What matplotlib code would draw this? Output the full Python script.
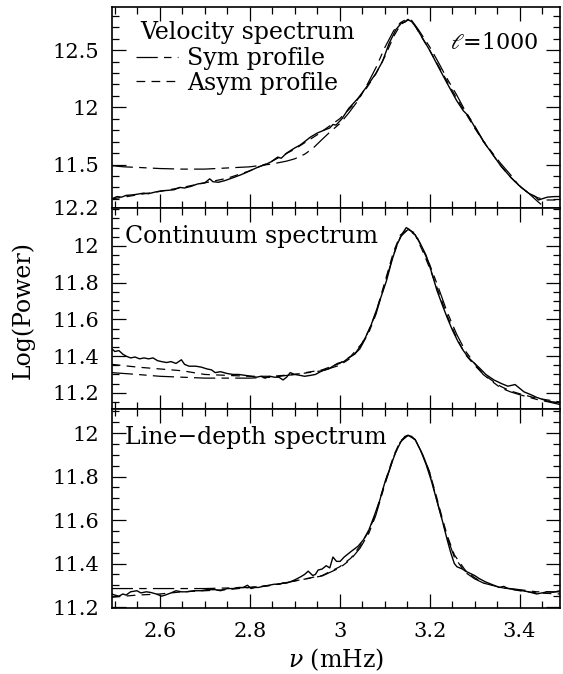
"""
Velocity / continuum / line-depth power spectra with Sym and Asym profile fits
"""

import numpy as np
import matplotlib
matplotlib.use('Agg')
import matplotlib.pyplot as plt
from matplotlib.lines import Line2D
from matplotlib.ticker import MultipleLocator, FixedLocator, FixedFormatter

plt.rcParams['font.family'] = ['DejaVu Serif']
plt.rcParams['mathtext.fontset'] = 'dejavuserif'

# ---- velocity spectrum (top) ----
vel_obs_nu = [2.493, 2.505, 2.515, 2.525, 2.540, 2.549, 2.564, 2.575, 2.590, 2.604,
              2.620, 2.632, 2.644, 2.655, 2.670, 2.684, 2.700, 2.711, 2.718, 2.730,
              2.745, 2.763, 2.780, 2.792, 2.803, 2.820, 2.835, 2.848, 2.862, 2.870,
              2.882, 2.900, 2.912, 2.922, 2.935, 2.950, 2.965, 2.978, 2.985, 2.992,
              3.005, 3.020, 3.041, 3.060, 3.081, 3.095, 3.110, 3.125, 3.138, 3.145,
              3.152, 3.160, 3.170, 3.185, 3.200, 3.220, 3.239, 3.260, 3.275, 3.285,
              3.300, 3.320, 3.340, 3.358, 3.380, 3.398, 3.420, 3.435, 3.442, 3.450,
              3.462, 3.478, 3.490]
vel_obs_pw = [11.20, 11.22, 11.215, 11.23, 11.235, 11.24, 11.25, 11.245, 11.26, 11.27,
              11.275, 11.28, 11.30, 11.295, 11.31, 11.33, 11.34, 11.375, 11.35, 11.345,
              11.36, 11.385, 11.41, 11.43, 11.45, 11.48, 11.50, 11.525, 11.565, 11.555,
              11.60, 11.645, 11.67, 11.70, 11.74, 11.775, 11.80, 11.82, 11.85, 11.845,
              11.90, 11.99, 12.08, 12.18, 12.30, 12.40, 12.56, 12.68, 12.74, 12.745,
              12.765, 12.75, 12.70, 12.60, 12.50, 12.35, 12.21, 12.06, 11.97, 11.93,
              11.83, 11.70, 11.59, 11.49, 11.39, 11.32, 11.25, 11.22, 11.19, 11.20,
              11.215, 11.22, 11.22]
vel_sym_nu = [2.493, 2.52, 2.55, 2.60, 2.65, 2.70, 2.75, 2.80, 2.85, 2.882, 2.90, 2.922,
              2.94, 2.961, 2.98, 3.001, 3.02, 3.041, 3.06, 3.081, 3.10, 3.12, 3.135,
              3.148, 3.16, 3.175, 3.19, 3.20, 3.22, 3.239, 3.26, 3.279, 3.30, 3.319,
              3.34, 3.358, 3.38, 3.398, 3.42, 3.438, 3.454, 3.465]
vel_sym_pw = [11.49, 11.48, 11.475, 11.465, 11.46, 11.46, 11.47, 11.48, 11.505, 11.53,
              11.55, 11.59, 11.64, 11.72, 11.79, 11.86, 11.95, 12.06, 12.19, 12.35,
              12.52, 12.67, 12.74, 12.77, 12.76, 12.68, 12.59, 12.53, 12.39, 12.25,
              12.11, 11.97, 11.84, 11.71, 11.60, 11.51, 11.41, 11.32, 11.25, 11.185,
              11.13, 11.10]
vel_asym_nu = [2.493, 2.52, 2.55, 2.60, 2.65, 2.70, 2.75, 2.80, 2.85, 2.90, 2.95, 3.00,
               3.03, 3.06, 3.08, 3.10, 3.12, 3.135, 3.152, 3.165, 3.18, 3.20, 3.22,
               3.24, 3.26, 3.28, 3.30, 3.32, 3.34, 3.36, 3.38, 3.40, 3.42, 3.44, 3.46,
               3.49]
vel_asym_pw = [11.20, 11.215, 11.235, 11.265, 11.30, 11.34, 11.38, 11.445, 11.53,
               11.635, 11.76, 11.90, 12.02, 12.17, 12.29, 12.44, 12.62, 12.72, 12.77,
               12.73, 12.63, 12.50, 12.36, 12.22, 12.08, 11.95, 11.82, 11.70, 11.59,
               11.48, 11.39, 11.31, 11.25, 11.21, 11.19, 11.19]

# ---- continuum spectrum (middle) ----
con_obs_nu = [2.493, 2.500, 2.509, 2.518, 2.525, 2.535, 2.545, 2.555, 2.565, 2.575,
              2.585, 2.595, 2.604, 2.615, 2.625, 2.636, 2.648, 2.655, 2.665, 2.680,
              2.692, 2.705, 2.715, 2.723, 2.735, 2.750, 2.763, 2.775, 2.790, 2.803,
              2.815, 2.825, 2.834, 2.845, 2.855, 2.865, 2.874, 2.882, 2.890, 2.900,
              2.912, 2.922, 2.935, 2.946, 2.961, 2.975, 2.985, 2.995, 3.009, 3.020,
              3.033, 3.045, 3.057, 3.070, 3.081, 3.093, 3.104, 3.116, 3.128, 3.140,
              3.148, 3.155, 3.168, 3.180, 3.192, 3.204, 3.216, 3.228, 3.239, 3.251,
              3.263, 3.275, 3.287, 3.300, 3.311, 3.325, 3.343, 3.360, 3.374, 3.390,
              3.400, 3.410, 3.425, 3.438, 3.450, 3.462, 3.475, 3.490]
con_obs_pw = [11.44, 11.425, 11.43, 11.41, 11.40, 11.39, 11.395, 11.385, 11.39, 11.385,
              11.39, 11.375, 11.37, 11.365, 11.37, 11.36, 11.38, 11.355, 11.345, 11.345,
              11.34, 11.33, 11.325, 11.31, 11.315, 11.305, 11.30, 11.30, 11.295, 11.29,
              11.285, 11.29, 11.28, 11.29, 11.285, 11.285, 11.27, 11.285, 11.31, 11.30,
              11.295, 11.29, 11.295, 11.30, 11.32, 11.33, 11.345, 11.36, 11.37, 11.39,
              11.41, 11.45, 11.50, 11.57, 11.645, 11.73, 11.81, 11.92, 12.01, 12.07,
              12.10, 12.09, 12.06, 12.01, 11.95, 11.86, 11.76, 11.68, 11.61, 11.54,
              11.48, 11.43, 11.39, 11.36, 11.335, 11.30, 11.27, 11.25, 11.236, 11.245,
              11.225, 11.205, 11.19, 11.175, 11.165, 11.155, 11.15, 11.145]
con_sym_nu = [2.493, 2.55, 2.60, 2.65, 2.70, 2.80, 2.85, 2.90, 2.961, 3.00, 3.025, 3.045,
              3.065, 3.081, 3.10, 3.12, 3.135, 3.152, 3.168, 3.185, 3.20, 3.22, 3.239,
              3.26, 3.279, 3.30, 3.319, 3.34, 3.358, 3.38, 3.40, 3.438, 3.465, 3.49]
con_sym_pw = [11.31, 11.30, 11.29, 11.285, 11.28, 11.28, 11.285, 11.30, 11.32, 11.35,
              11.39, 11.44, 11.53, 11.63, 11.79, 11.955, 12.05, 12.09, 12.07, 11.98,
              11.90, 11.77, 11.64, 11.52, 11.43, 11.36, 11.30, 11.26, 11.227, 11.205,
              11.19, 11.164, 11.15, 11.136]
con_asym_nu = [2.493, 2.55, 2.60, 2.65, 2.70, 2.75, 2.80, 2.85, 2.90, 2.961, 3.00, 3.025,
               3.05, 3.065, 3.081, 3.10, 3.12, 3.135, 3.152, 3.168, 3.185, 3.20, 3.22,
               3.239, 3.26, 3.279, 3.30, 3.32, 3.34, 3.358, 3.38, 3.40, 3.438, 3.465,
               3.49]
con_asym_pw = [11.355, 11.34, 11.33, 11.32, 11.30, 11.295, 11.29, 11.29, 11.30, 11.325,
               11.36, 11.40, 11.47, 11.54, 11.64, 11.80, 11.97, 12.06, 12.09, 12.06,
               11.97, 11.88, 11.75, 11.62, 11.50, 11.41, 11.35, 11.30, 11.265, 11.235,
               11.21, 11.195, 11.17, 11.16, 11.15]

# ---- line-depth spectrum (bottom) ----
lin_obs_nu = [2.493, 2.500, 2.509, 2.518, 2.525, 2.535, 2.549, 2.558, 2.570, 2.580,
              2.592, 2.604, 2.612, 2.625, 2.636, 2.648, 2.660, 2.675, 2.692, 2.705,
              2.723, 2.735, 2.750, 2.763, 2.775, 2.785, 2.795, 2.803, 2.812, 2.819,
              2.830, 2.842, 2.855, 2.865, 2.874, 2.882, 2.895, 2.905, 2.914, 2.922,
              2.930, 2.940, 2.946, 2.952, 2.961, 2.970, 2.978, 2.985, 2.993, 3.001,
              3.010, 3.025, 3.041, 3.053, 3.065, 3.077, 3.089, 3.100, 3.112, 3.124,
              3.136, 3.145, 3.152, 3.160, 3.168, 3.180, 3.192, 3.204, 3.216, 3.228,
              3.239, 3.247, 3.255, 3.261, 3.267, 3.273, 3.279, 3.290, 3.300, 3.311,
              3.325, 3.343, 3.355, 3.365, 3.374, 3.390, 3.406, 3.420, 3.438, 3.450,
              3.462, 3.475, 3.490]
lin_obs_pw = [11.26, 11.255, 11.25, 11.26, 11.255, 11.27, 11.275, 11.265, 11.27, 11.267,
              11.26, 11.25, 11.255, 11.265, 11.275, 11.27, 11.27, 11.275, 11.275, 11.28,
              11.28, 11.275, 11.285, 11.285, 11.29, 11.29, 11.30, 11.285, 11.29, 11.29,
              11.295, 11.30, 11.305, 11.305, 11.31, 11.31, 11.32, 11.33, 11.34, 11.35,
              11.365, 11.345, 11.35, 11.37, 11.375, 11.39, 11.38, 11.43, 11.41, 11.41,
              11.43, 11.455, 11.48, 11.51, 11.555, 11.62, 11.69, 11.77, 11.84, 11.91,
              11.96, 11.985, 11.99, 11.985, 11.97, 11.92, 11.857, 11.78, 11.69, 11.60,
              11.51, 11.45, 11.40, 11.385, 11.38, 11.375, 11.366, 11.355, 11.345, 11.33,
              11.315, 11.30, 11.29, 11.295, 11.285, 11.28, 11.275, 11.27, 11.26, 11.265,
              11.27, 11.268, 11.275]
lin_sym_nu = [2.493, 2.60, 2.70, 2.80, 2.85, 2.90, 2.961, 3.00, 3.025, 3.045, 3.065,
              3.08, 3.10, 3.12, 3.135, 3.152, 3.168, 3.185, 3.20, 3.215, 3.228, 3.239,
              3.255, 3.279, 3.30, 3.32, 3.358, 3.40, 3.438, 3.49]
lin_sym_pw = [11.285, 11.285, 11.285, 11.29, 11.30, 11.32, 11.343, 11.38, 11.42, 11.47,
              11.54, 11.62, 11.76, 11.89, 11.96, 11.99, 11.97, 11.90, 11.82, 11.70,
              11.60, 11.52, 11.43, 11.36, 11.33, 11.31, 11.29, 11.28, 11.27, 11.27]
lin_asym_nu = [2.493, 2.55, 2.60, 2.65, 2.70, 2.75, 2.80, 2.85, 2.90, 2.961, 3.00, 3.025,
               3.045, 3.065, 3.08, 3.10, 3.12, 3.135, 3.152, 3.168, 3.185, 3.20, 3.215,
               3.228, 3.239, 3.255, 3.279, 3.30, 3.32, 3.358, 3.40, 3.438, 3.49]
lin_asym_pw = [11.245, 11.255, 11.26, 11.27, 11.275, 11.28, 11.29, 11.30, 11.32, 11.345,
               11.385, 11.425, 11.48, 11.55, 11.63, 11.77, 11.895, 11.965, 11.99, 11.97,
               11.90, 11.82, 11.71, 11.61, 11.53, 11.44, 11.37, 11.335, 11.31, 11.29,
               11.275, 11.265, 11.26]

panel_titles = ['Velocity spectrum', 'Continuum spectrum', 'Line\u2212depth spectrum']
ylims = [(11.12, 12.875), (11.11, 12.207), (11.197, 12.11)]
yticks = [[11.12, 11.5, 12, 12.5], [11.2, 11.4, 11.6, 11.8, 12], [11.2, 11.4, 11.6, 11.8, 12]]
ytick_labels = [['12.2', '11.5', '12', '12.5'],
                ['11.2', '11.4', '11.6', '11.8', '12'],
                ['11.2', '11.4', '11.6', '11.8', '12']]
yminor = [0.1, 0.05, 0.05]
xticks = [2.6, 2.8, 3.0, 3.2, 3.4]
xtick_labels = ['2.6', '2.8', '3', '3.2', '3.4']

SYM_DASH = (0, (17, 5, 6, 5))
ASYM_DASH = (0, (7, 5))
FS = 15      # tick labels
FS_TXT = 17  # panel texts and axis labels

fig = plt.figure(figsize=(5.63, 6.74), dpi=100)
left, width = 0.1984, 0.7963
boxes = [(0.6914, 0.2978), (0.3927, 0.2987), (0.0984, 0.2944)]
axes = [fig.add_axes([left, b, width, h]) for b, h in boxes]

curves = [
    (vel_obs_nu, vel_obs_pw, vel_sym_nu, vel_sym_pw, vel_asym_nu, vel_asym_pw),
    (con_obs_nu, con_obs_pw, con_sym_nu, con_sym_pw, con_asym_nu, con_asym_pw),
    (lin_obs_nu, lin_obs_pw, lin_sym_nu, lin_sym_pw, lin_asym_nu, lin_asym_pw),
]

for i, ax in enumerate(axes):
    obs_nu, obs_pw, sym_nu, sym_pw, asym_nu, asym_pw = curves[i]
    ax.plot(obs_nu, obs_pw, color='black', lw=1.0, solid_joinstyle='round')
    ax.plot(sym_nu, sym_pw, color='black', lw=0.9, linestyle=SYM_DASH)
    ax.plot(asym_nu, asym_pw, color='black', lw=0.9, linestyle=ASYM_DASH)

    ax.set_xlim(2.493, 3.49)
    ax.set_ylim(*ylims[i])
    ax.xaxis.set_major_locator(FixedLocator(xticks))
    ax.xaxis.set_minor_locator(MultipleLocator(0.05))
    ax.yaxis.set_major_locator(FixedLocator(yticks[i]))
    ax.yaxis.set_major_formatter(FixedFormatter(ytick_labels[i]))
    ax.yaxis.set_minor_locator(MultipleLocator(yminor[i]))
    ax.tick_params(which='both', direction='in', top=True, right=True, width=0.9,
                   labelsize=FS, pad=9)
    ax.tick_params(which='major', length=10)
    ax.tick_params(which='minor', length=5)
    for s in ax.spines.values():
        s.set_linewidth(1.2)
    if i < 2:
        ax.tick_params(labelbottom=False)
    else:
        ax.set_xticklabels(xtick_labels)
        ax.tick_params(axis='x', pad=10)
        ax.set_xlabel(r'$\nu$ (mHz)', fontsize=FS_TXT, labelpad=4)

# top panel: title, legend for the two fits, and the degree
axes[0].text(0.063, 0.872, panel_titles[0], transform=axes[0].transAxes,
             fontsize=FS_TXT, ha='left', va='center')
handles = [Line2D([], [], color='black', lw=0.9, linestyle=SYM_DASH),
           Line2D([], [], color='black', lw=0.9, linestyle=ASYM_DASH)]
axes[0].legend(handles, ['Sym profile', 'Asym profile'], loc='upper left',
               bbox_to_anchor=(0.055, 0.80), frameon=False, fontsize=FS_TXT,
               handlelength=1.75, handletextpad=0.4, labelspacing=0.05,
               borderaxespad=0.0, borderpad=0.0)
axes[0].text(0.755, 0.82, r'$\ell$=1000', transform=axes[0].transAxes, fontsize=16,
             ha='left', va='center')

axes[1].text(0.03, 0.86, panel_titles[1], transform=axes[1].transAxes, fontsize=FS_TXT,
             ha='left', va='center')
axes[2].text(0.03, 0.86, panel_titles[2], transform=axes[2].transAxes, fontsize=FS_TXT,
             ha='left', va='center')

fig.text(0.04, 0.54, 'Log(Power)', rotation=90, fontsize=FS_TXT, ha='center', va='center')

fig.savefig('out.png', dpi=100)
